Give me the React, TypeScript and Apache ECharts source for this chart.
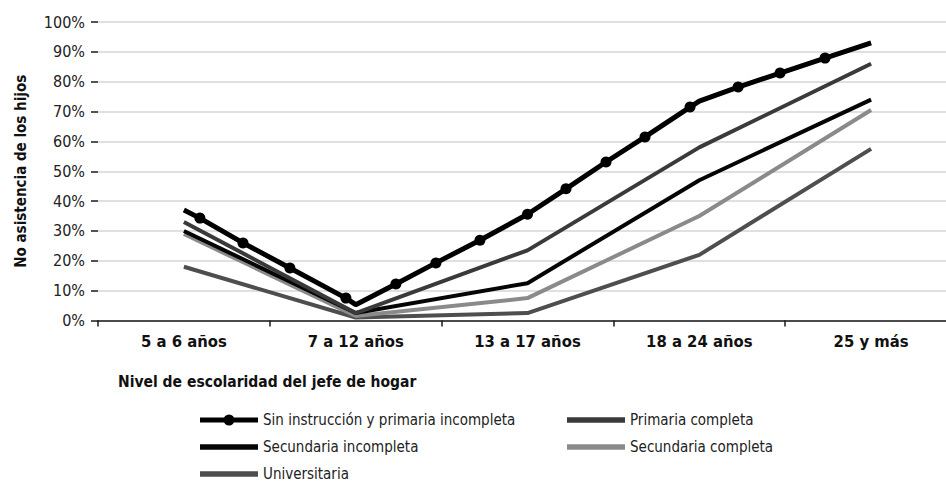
import React, { useEffect, useRef } from "react";
import * as echarts from "echarts";

const categories = ["5 a 6 años", "7 a 12 años", "13 a 17 años", "18 a 24 años", "25 y más"];
const yTicks = [0, 10, 20, 30, 40, 50, 60, 70, 80, 90, 100];

const seriesNames = [
  "Sin instrucción y primaria incompleta",
  "Primaria completa",
  "Secundaria incompleta",
  "Secundaria completa",
  "Universitaria",
];

// Sin instrucción: [x position in category units, value %, has marker]
const sinInstruccion: [number, number, boolean][] = [
  [0, 37, false],
  [0.093, 34.3, true],
  [0.344, 26.0, true],
  [0.617, 17.6, true],
  [0.943, 7.5, true],
  [1, 5.3, false],
  [1.234, 12.2, true],
  [1.467, 19.3, true],
  [1.723, 26.9, true],
  [2, 35.6, true],
  [2.224, 44.1, true],
  [2.457, 53.1, true],
  [2.684, 61.5, true],
  [2.946, 71.5, true],
  [3, 73.5, false],
  [3.226, 78.2, true],
  [3.47, 82.9, true],
  [3.732, 87.9, true],
  [4, 93, false],
];
const primariaCompleta = [33, 2.5, 23.5, 58, 86];
const secundariaIncompleta = [30, 2.5, 12.5, 47, 74];
const secundariaCompleta = [29, 1.5, 7.5, 35, 70.5];
const universitaria = [18, 1, 2.5, 22, 57.5];

const NARROW = "'Liberation Sans Narrow', 'DejaVu Sans Condensed', 'Roboto Condensed', sans-serif";

const ICON_MARKER =
  "path://M0,3.5 H58 V8.5 H0 Z M23.5,6 A5.5,5.5 0 1,1 34.5,6 A5.5,5.5 0 1,1 23.5,6 Z";
const ICON_BAR = "path://M0,0 H58 V5.5 H0 Z";

export default function App() {
  const ref = useRef<HTMLDivElement>(null);
  useEffect(() => {
    if (!ref.current) return;
    const chart = echarts.init(ref.current, undefined, { renderer: "svg" });
    const legendText = { fontFamily: NARROW, fontSize: 15, color: "#222", lineHeight: 20 };
    chart.setOption({
      animation: false,
      grid: { left: 98, right: 3, top: 22, bottom: 179.5, containLabel: false },
      xAxis: [
        {
          type: "category",
          data: categories,
          boundaryGap: true,
          axisLine: { show: true, lineStyle: { color: "#1a1a1a", width: 1.5 } },
          axisTick: { show: true, length: 6, lineStyle: { color: "#1a1a1a", width: 1.5 } },
          axisLabel: { margin: 12, fontFamily: NARROW, fontWeight: "bold", fontSize: 16.5, color: "#111" },
          splitLine: { show: false },
        },
        {
          type: "value",
          min: -0.5,
          max: 4.5,
          show: false,
        },
      ],
      yAxis: {
        type: "value",
        min: 0,
        max: 100,
        interval: 10,
        name: "No asistencia de los hijos",
        nameLocation: "middle",
        nameGap: 70,
        nameTextStyle: { fontFamily: NARROW, fontWeight: "bold", fontSize: 15, color: "#111", padding: [0, 0, 0, 0] },
        axisLine: { show: false, onZero: false },
        axisTick: { show: true, length: 7, lineStyle: { color: "#1a1a1a", width: 1.5 } },
        axisLabel: {
          margin: 13,
          fontFamily: NARROW,
          fontSize: 16,
          color: "#222",
          formatter: (v: number) => (yTicks.includes(v) ? v + "%" : ""),
        },
        splitLine: { show: true, lineStyle: { color: "#d6d6d6", width: 1.5 } },
      },
      legend: [
        {
          orient: "vertical",
          left: 195,
          top: 405,
          height: 120,
          itemWidth: 58,
          itemHeight: 12,
          itemGap: 7,
          textStyle: legendText,
          data: [
            { name: seriesNames[0], icon: ICON_MARKER },
            { name: seriesNames[2], icon: ICON_BAR },
            { name: seriesNames[4], icon: ICON_BAR },
          ],
        },
        {
          orient: "vertical",
          left: 562,
          top: 405,
          height: 120,
          itemWidth: 58,
          itemHeight: 12,
          itemGap: 7,
          textStyle: legendText,
          data: [
            { name: seriesNames[1], icon: ICON_BAR },
            { name: seriesNames[3], icon: ICON_BAR },
          ],
        },
      ],
      graphic: [
        {
          type: "text",
          left: 118,
          top: 374,
          style: {
            text: "Nivel de escolaridad del jefe de hogar",
            fontFamily: NARROW,
            fontWeight: "bold",
            fontSize: 15.5,
            fill: "#111",
          },
        },
      ],
      series: [
        {
          name: seriesNames[4],
          type: "line",
          data: universitaria,
          symbol: "none",
          lineStyle: { color: "#4e4e4e", width: 4 },
          itemStyle: { color: "#4e4e4e" },
          z: 2,
        },
        {
          name: seriesNames[3],
          type: "line",
          data: secundariaCompleta,
          symbol: "none",
          lineStyle: { color: "#8a8a8a", width: 4 },
          itemStyle: { color: "#8a8a8a" },
          z: 3,
        },
        {
          name: seriesNames[2],
          type: "line",
          data: secundariaIncompleta,
          symbol: "none",
          lineStyle: { color: "#050505", width: 4 },
          itemStyle: { color: "#050505" },
          z: 4,
        },
        {
          name: seriesNames[1],
          type: "line",
          data: primariaCompleta,
          symbol: "none",
          lineStyle: { color: "#3a3a3a", width: 4 },
          itemStyle: { color: "#3a3a3a" },
          z: 5,
        },
        {
          name: seriesNames[0],
          type: "line",
          xAxisIndex: 1,
          symbol: "circle",
          symbolSize: 11,
          showSymbol: true,
          data: sinInstruccion.map(([x, v, m]) => (m ? { value: [x, v] } : { value: [x, v], symbol: "none" })),
          lineStyle: { color: "#000", width: 5 },
          itemStyle: { color: "#000" },
          z: 6,
        },
      ],
    });
    return () => chart.dispose();
  }, []);
  return (
    <div style={{ position: "absolute", left: 0, top: 0, width: 946, height: 483, overflow: "hidden", background: "#fff" }}>
      <div ref={ref} style={{ width: 960, height: 500 }} />
    </div>
  );
}
